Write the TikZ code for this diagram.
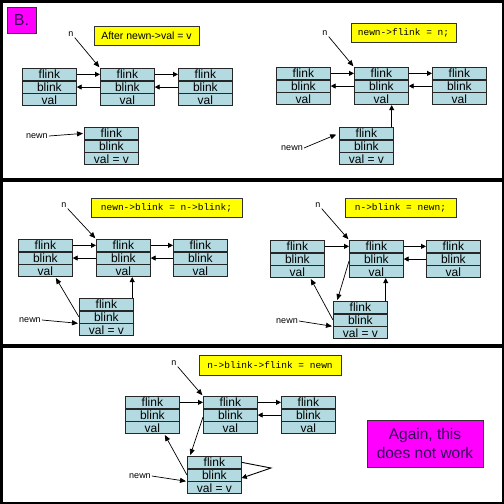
\documentclass[tikz,border=0pt]{standalone}
\usepackage{fontspec}
\setmainfont{Liberation Sans}
\setmonofont{Liberation Mono}
\usetikzlibrary{arrows.meta,calc}
\definecolor{cellblue}{RGB}{178,218,224}
\definecolor{hilite}{RGB}{255,255,0}
\definecolor{magent}{RGB}{255,0,255}
\definecolor{darkpurp}{RGB}{50,0,90}
\tikzset{
  cell/.style={draw=black!85, line width=0.7pt, fill=cellblue, minimum width=54pt, minimum height=12pt, inner sep=0pt, font=\fontsize{12}{12}\selectfont},
  codebox/.style={draw=black!80, line width=0.6pt, fill=hilite, inner sep=0pt, font=\ttfamily\fontsize{9.5}{10}\selectfont},
  notebox/.style={draw=black!80, line width=0.6pt, fill=magent, inner sep=0pt, text=darkpurp, align=center},
  lbl/.style={inner sep=1pt, font=\fontsize{9}{10}\selectfont},
  arr/.style={line width=0.9pt, -{Triangle[length=5pt,width=5pt]}},
  ptr/.style={line width=0.7pt, -{Triangle[length=6pt,width=5pt]}, shorten >=1pt}
}
\newcommand{\llnode}[4]{%
  \node[cell, anchor=north west] (#1-f) at (#2,#3) {flink};
  \node[cell, anchor=north] (#1-b) at (#1-f.south) {blink};
  \node[cell, anchor=north] (#1-v) at (#1-b.south) {#4};
}
\begin{document}
\begin{tikzpicture}[x=1pt,y=-1pt]
\useasboundingbox (0,0) rectangle (504,504);
% frame and panels
\fill[black] (0,0) rectangle (504,504);
\fill[white] (2.5,2.5) rectangle (501.5,178);
\fill[white] (2.5,181.5) rectangle (501.5,344);
\fill[white] (2.5,348) rectangle (501.5,501.5);

% ---------- Panel 1 left ----------
\node[notebox, minimum width=29pt, minimum height=26pt, font=\fontsize{16}{16}\selectfont] (Bbox) at (21.5,20) {B.};
\node[draw=black!80, line width=0.6pt, fill=hilite, inner sep=0pt, minimum width=105pt, minimum height=19pt, font=\fontsize{10.5}{11}\selectfont] (y1) at (146.5,35.5) {After newn->val = v};
\llnode{L1}{22}{68}{val}
\llnode{M1}{100}{68}{val}
\llnode{R1}{178}{68}{val}
\llnode{N1}{84}{127}{val = v}
\draw[arr] (L1-f.east) -- (M1-f.west);
\draw[arr] (M1-f.east) -- (R1-f.west);
\draw[arr] (R1-b.west) -- (M1-b.east);
\draw[arr] (M1-b.west) -- (L1-b.east);
\node[lbl] (n1) at (71,34) {n};
\draw[ptr] (n1.south east) -- (M1-f.north west);
\node[lbl] (w1) at (37,136) {newn};
\draw[ptr] (w1.east) -- (N1-f.west);

% ---------- Panel 1 right ----------
\node[codebox, minimum width=105pt, minimum height=19pt] (y2) at (403.5,32.5) {newn->flink = n;};
\llnode{L2}{276}{67}{val}
\llnode{M2}{354}{67}{val}
\llnode{R2}{432}{67}{val}
\llnode{N2}{339}{127}{val = v}
\draw[arr] (L2-f.east) -- (M2-f.west);
\draw[arr] (M2-f.east) -- (R2-f.west);
\draw[arr] (R2-b.west) -- (M2-b.east);
\draw[arr] (M2-b.west) -- (L2-b.east);
\node[lbl] (n2) at (325,33) {n};
\draw[ptr] (n2.south east) -- (M2-f.north west);
\coordinate (t2) at ([xshift=-2pt]N2-f.north east);
\draw[arr] (t2) -- (t2 |- M2-v.south);
\node[lbl] (w2) at (292,148) {newn};
\draw[ptr, shorten >=3pt] (w2.east) -- (N2-f.west);

% ---------- Panel 2 left ----------
\node[codebox, minimum width=151pt, minimum height=19pt] (y3) at (166.5,207.5) {newn->blink = n->blink;};
\llnode{L3}{18}{239}{val}
\llnode{M3}{96}{239}{val}
\llnode{R3}{173}{239}{val}
\llnode{N3}{79}{298}{val = v}
\draw[arr] (L3-f.east) -- (M3-f.west);
\draw[arr] (M3-f.east) -- (R3-f.west);
\draw[arr] (R3-b.west) -- (M3-b.east);
\draw[arr] (M3-b.west) -- (L3-b.east);
\node[lbl] (n3) at (64,205) {n};
\draw[ptr] (n3.south east) -- (M3-f.north west);
\coordinate (t3) at ([xshift=-1.5pt]N3-f.north east);
\draw[arr] (t3) -- (t3 |- M3-v.south);
\draw[ptr] (N3-b.west) -- ([xshift=10pt]L3-v.south);
\node[lbl] (w3) at (30,320) {newn};
\draw[ptr] (w3.east) -- (N3-b.south west);

% ---------- Panel 2 right ----------
\node[codebox, minimum width=111pt, minimum height=19pt] (y4) at (400.5,207.5) {n->blink = newn;};
\llnode{L4}{270}{240}{val}
\llnode{M4}{349}{240}{val}
\llnode{R4}{426}{240}{val}
\llnode{N4}{333}{301}{val = v}
\draw[arr] (L4-f.east) -- (M4-f.west);
\draw[arr] (M4-f.east) -- (R4-f.west);
\draw[arr] (R4-b.west) -- (M4-b.east);
\node[lbl] (n4) at (318,205) {n};
\draw[ptr] (n4.south east) -- (M4-f.north west);
\draw[ptr] ([yshift=-2pt]M4-b.west) -- ([xshift=4pt]N4-f.north west);
\coordinate (t4) at ([xshift=-2pt]N4-f.north east);
\draw[arr] (t4) -- (t4 |- M4-v.south);
\draw[ptr] (N4-b.west) -- ([xshift=13pt]L4-v.south);
\node[lbl] (w4) at (287,321) {newn};
\draw[ptr] (w4.east) -- (N4-b.south west);

% ---------- Panel 3 ----------
\node[codebox, minimum width=142pt, minimum height=20pt] (y5) at (270,365) {n->blink->flink = newn};
\llnode{L5}{125}{396}{val}
\llnode{M5}{203}{396}{val}
\llnode{R5}{281}{396}{val}
\llnode{N5}{187}{456}{val = v}
\draw[arr] (L5-f.east) -- (M5-f.west);
\draw[arr] (M5-f.east) -- (R5-f.west);
\draw[arr] (R5-b.west) -- (M5-b.east);
\node[lbl] (n5) at (174,363) {n};
\draw[ptr] (n5.south east) -- (M5-f.north west);
\draw[ptr] ([yshift=-2pt]M5-b.west) -- ([xshift=3pt]N5-f.north west);
\draw[ptr] (N5-b.west) -- ([xshift=12pt]L5-v.south);
\node[lbl] (w5) at (140,476) {newn};
\draw[ptr] (w5.east) -- (N5-b.south west);
\coordinate (loop5) at (271,468);
\draw[arr] (N5-f.east) -- (loop5) -- ([yshift=-3pt]N5-b.east);
\node[notebox, minimum width=116pt, minimum height=47pt, font=\fontsize{15.5}{19}\selectfont] (again) at (425,443.5) {Again, this\\does not work};
\end{tikzpicture}
\end{document}
